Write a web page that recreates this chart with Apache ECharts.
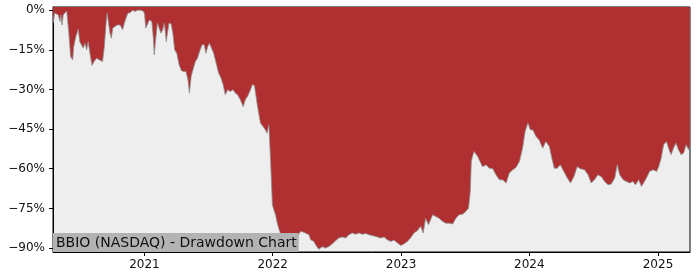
<!DOCTYPE html>
<html>
<head>
<meta charset="utf-8">
<script src="https://cdn.jsdelivr.net/npm/echarts@6/dist/echarts.min.js"></script>
<style>html,body{margin:0;padding:0;background:#fff;}#c{width:700px;height:280px;}</style>
</head>
<body>
<div id="c"></div>
<script>
const titleText = 'BBIO (NASDAQ) - Drawdown Chart';
const yTicks = [0, -15, -30, -45, -60, -75, -90];
const xTickYears = ['2021', '2022', '2023', '2024', '2025'];
const dates = [
'2020-04-16','2020-04-21','2020-04-26','2020-05-01','2020-05-06','2020-05-08','2020-05-12','2020-05-15','2020-05-20','2020-05-25',
'2020-05-27','2020-05-31','2020-06-05','2020-06-11','2020-06-14','2020-06-20','2020-06-27','2020-07-01','2020-07-06','2020-07-11',
'2020-07-16','2020-07-21','2020-07-25','2020-07-30','2020-08-05','2020-08-11','2020-08-18','2020-08-25','2020-08-30','2020-09-04',
'2020-09-09','2020-09-14','2020-09-17','2020-09-21','2020-09-25','2020-09-29','2020-10-03','2020-10-09','2020-10-16','2020-10-24',
'2020-10-31','2020-11-05','2020-11-10','2020-11-15','2020-11-21','2020-11-29','2020-12-05','2020-12-12','2020-12-20','2020-12-27',
'2021-01-01','2021-01-05','2021-01-09','2021-01-15','2021-01-22','2021-01-26','2021-01-29','2021-02-02','2021-02-07','2021-02-12',
'2021-02-17','2021-02-22','2021-02-27','2021-03-04','2021-03-08','2021-03-12','2021-03-18','2021-03-23','2021-03-28','2021-04-03',
'2021-04-10','2021-04-16','2021-04-22','2021-04-29','2021-05-05','2021-05-09','2021-05-14','2021-05-19','2021-05-26','2021-06-01',
'2021-06-07','2021-06-14','2021-06-20','2021-06-25','2021-06-30','2021-07-05','2021-07-10','2021-07-17','2021-07-24','2021-07-31',
'2021-08-07','2021-08-13','2021-08-19','2021-08-26','2021-09-02','2021-09-10','2021-09-17','2021-09-23','2021-10-01','2021-10-09',
'2021-10-15','2021-10-22','2021-10-30','2021-11-04','2021-11-10','2021-11-18','2021-11-27','2021-12-07','2021-12-11','2021-12-16',
'2021-12-21','2021-12-26','2021-12-31','2022-01-04','2022-01-09','2022-01-14','2022-01-18','2022-01-23','2022-02-01','2022-02-11',
'2022-02-20','2022-03-02','2022-03-12','2022-03-21','2022-03-30','2022-04-04','2022-04-14','2022-04-19','2022-04-28','2022-05-03',
'2022-05-12','2022-05-22','2022-05-31','2022-06-10','2022-06-19','2022-06-29','2022-07-08','2022-07-18','2022-07-27','2022-08-06',
'2022-08-15','2022-08-25','2022-09-03','2022-09-13','2022-09-22','2022-10-02','2022-10-07','2022-10-21','2022-11-04','2022-11-14',
'2022-11-23','2022-12-03','2022-12-12','2022-12-22','2022-12-31','2023-01-09','2023-01-19','2023-01-28','2023-02-07','2023-02-16',
'2023-02-26','2023-03-05','2023-03-12','2023-03-20','2023-04-01','2023-04-10','2023-04-19','2023-04-29','2023-05-08','2023-05-18',
'2023-05-28','2023-06-06','2023-06-15','2023-06-25','2023-07-04','2023-07-12','2023-07-17','2023-07-20','2023-07-24','2023-07-28',
'2023-08-02','2023-08-07','2023-08-12','2023-08-16','2023-08-21','2023-08-26','2023-08-31','2023-09-05','2023-09-09','2023-09-19',
'2023-09-23','2023-09-28','2023-10-03','2023-10-08','2023-10-17','2023-10-22','2023-10-27','2023-11-05','2023-11-15','2023-11-24',
'2023-12-04','2023-12-13','2023-12-20','2023-12-28','2024-01-04','2024-01-11','2024-01-20','2024-01-29','2024-02-08','2024-02-17',
'2024-02-27','2024-03-05','2024-03-12','2024-03-20','2024-03-29','2024-04-08','2024-04-18','2024-04-27','2024-05-07','2024-05-16',
'2024-05-25','2024-06-06','2024-06-16','2024-06-25','2024-07-04','2024-07-14','2024-07-24','2024-08-02','2024-08-12','2024-08-21',
'2024-08-31','2024-09-07','2024-09-14','2024-09-24','2024-10-03','2024-10-12','2024-10-22','2024-10-29','2024-11-07','2024-11-15',
'2024-11-20','2024-11-29','2024-12-08','2024-12-18','2024-12-28','2025-01-03','2025-01-10','2025-01-17','2025-01-25','2025-01-31',
'2025-02-07','2025-02-14','2025-02-21','2025-02-28','2025-03-08','2025-03-15','2025-03-22','2025-03-29','2025-04-01'
];
const drawdown = [
-4.9,-1.1,-1.2,-1.8,-4.3,-1.8,-5.6,-1.8,-1.1,-0.3,
0,-8.7,-17.5,-18.8,-13.8,-10,-7.2,-11.9,-12.5,-14.4,
-12.5,-15,-11.9,-16.3,-20.9,-19.4,-18.2,-18.8,-18.2,-19.4,
-13.8,-4.9,-1.1,-4.9,-8.7,-10.6,-6.8,-6.2,-5.6,-5.6,
-7.4,-4.9,-4.9,-1.1,-1,0,-0.5,0,0,-0.2,
-1.1,-6.8,-6.2,-3.7,-4.3,-10,-16.9,-11.2,-4.9,-6.8,
-8.7,-7.4,-4.9,-11.9,-12.5,-4.9,-5.2,-8.7,-15,-16.3,
-20.7,-22.8,-23.2,-23.2,-26.4,-31.4,-25.1,-22.6,-19.4,-18.2,
-15.6,-13.1,-13.1,-16.3,-13.8,-12.5,-11.9,-16.3,-20,-23.8,
-25.7,-28.2,-32,-30.1,-30.8,-30.1,-31.4,-32,-33.9,-36.5,
-33.9,-32.5,-30,-28.2,-28.5,-35.8,-42.7,-44.5,-45.3,-46.5,
-43.4,-57.2,-73.6,-75.5,-77.4,-80.6,-82.5,-84.5,-86.9,-88,
-89,-87.5,-85.8,-83.7,-84,-83.3,-85,-86.9,-87.5,-88.8,
-90.5,-89.5,-90,-89.4,-88.5,-87.2,-86.2,-85.8,-86.2,-85,
-84.3,-84.8,-84.3,-84.8,-84.5,-85,-85,-85.6,-86.2,-85.8,
-86.9,-87.5,-87,-88.1,-89,-88.5,-87.5,-86.2,-84.3,-83.5,
-81.8,-84.3,-78.7,-81.2,-77.4,-78.1,-78.7,-79.9,-80.6,-80.6,
-80.9,-78.7,-77.4,-77.2,-76.2,-74.9,-68.6,-57.2,-55,-53.5,
-53.5,-55.4,-56,-57.9,-59.2,-59.8,-58.5,-58.5,-59.8,-60,
-61,-62.3,-62.9,-64.2,-64.2,-64.8,-65.4,-61.6,-60.4,-59.5,
-57.2,-52,-45.9,-42.7,-45.3,-45.3,-47.8,-49.1,-52.2,-49.7,
-51.6,-56,-59.8,-59.8,-58.5,-61,-63.5,-65.4,-62.9,-59.2,
-60,-60.4,-62.3,-65.4,-64.2,-62.3,-63,-64.8,-66.1,-65.8,
-63.5,-58.5,-62.3,-64.2,-64.8,-65.4,-64.8,-66.1,-64.2,-66.7,
-67.3,-63.5,-61,-60.4,-61,-59.2,-56,-50.9,-49.7,-52.2,
-54.7,-52.2,-50.3,-52.8,-54.7,-54,-50.9,-52.8,-52
];
const xMin = '2020-04-16';
const xMax = '2025-04-02';
const yMin = -91.5;
const yMax = 1.2;

const ts = s => Date.parse(s + 'T00:00:00Z');
const chart = echarts.init(document.getElementById('c'), null, {renderer: 'canvas'});
const seriesData = dates.map((d, i) => [ts(d), drawdown[i]]);
const xTickValues = xTickYears.map(y => ts(y + '-01-01'));
const font = 'DejaVu Sans';
chart.setOption({
  animation: false,
  backgroundColor: '#ffffff',
  title: {
    text: titleText,
    left: 53, top: 233,
    padding: [2, 2, 1, 3],
    backgroundColor: '#b3b3b3',
    textStyle: {fontFamily: font, fontSize: 14, fontWeight: 'normal', color: '#111', lineHeight: 16}
  },
  grid: {left: 53, right: 10, top: 7, bottom: 28, show: true, backgroundColor: '#eeeeee', borderColor: '#000', borderWidth: 1, containLabel: false},
  xAxis: {
    type: 'value', min: ts(xMin), max: ts(xMax),
    axisLine: {show: true, onZero: false, lineStyle: {color: '#000', width: 1}},
    axisTick: {show: true, length: 4, lineStyle: {color: '#000'}, customValues: xTickValues},
    axisLabel: {fontFamily: font, fontSize: 12, color: '#111', margin: 7, customValues: xTickValues,
      formatter: v => String(new Date(v).getUTCFullYear())},
    splitLine: {show: false}, minorTick: {show: false}
  },
  yAxis: {
    type: 'value', min: yMin, max: yMax,
    axisLine: {show: true, lineStyle: {color: '#000', width: 1}},
    axisTick: {show: true, length: 4, lineStyle: {color: '#000'}, customValues: yTicks},
    axisLabel: {fontFamily: font, fontSize: 12, color: '#111', margin: 8, customValues: yTicks,
      formatter: v => (v === 0 ? '0%' : '\u2212' + Math.abs(v) + '%')},
    splitLine: {show: false}
  },
  series: [{
    type: 'line', data: seriesData, showSymbol: false, symbol: 'none', smooth: false,
    lineStyle: {color: '#8f8f8f', width: 0.8},
    areaStyle: {color: '#b03032', opacity: 1, origin: 'end'},
    z: 2
  }]
});
</script>
</body>
</html>
